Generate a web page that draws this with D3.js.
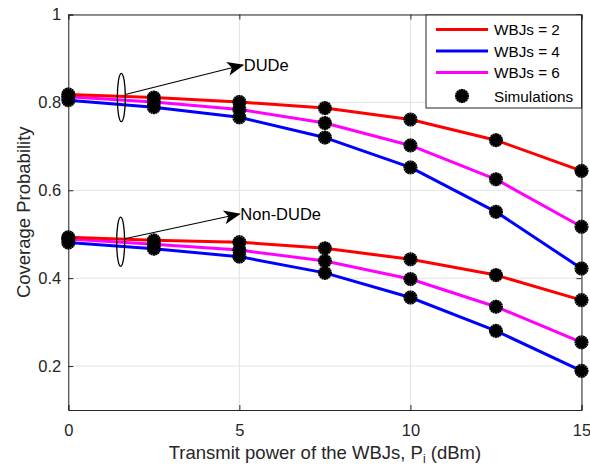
<!DOCTYPE html>
<html>
<head>
<meta charset="utf-8">
<script src="https://cdn.jsdelivr.net/npm/d3@7"></script>
<style>
  html, body { margin: 0; padding: 0; background: #fff; }
  svg { display: block; font-family: "Liberation Sans", Arial, Helvetica, sans-serif; }
</style>
</head>
<body>
<svg id="chart" width="590" height="469"></svg>
<script>
// ---- data ----
const powers = [0, 2.5, 5, 7.5, 10, 12.5, 15];
const seriesNames = ["WBJs = 2", "WBJs = 4", "WBJs = 6"];
const seriesColors = ["#ff0000", "#0000ff", "#ff00ff"];
const dudeW2 = [0.818, 0.811, 0.801, 0.787, 0.761, 0.714, 0.644];
const dudeW4 = [0.805, 0.789, 0.766, 0.720, 0.652, 0.551, 0.422];
const dudeW6 = [0.813, 0.801, 0.784, 0.753, 0.702, 0.625, 0.517];
const nonW2 = [0.493, 0.486, 0.482, 0.468, 0.443, 0.407, 0.350];
const nonW4 = [0.481, 0.467, 0.449, 0.412, 0.356, 0.280, 0.189];
const nonW6 = [0.489, 0.477, 0.464, 0.439, 0.398, 0.335, 0.254];
const xTicks = [0, 5, 10, 15];
const yTicks = [0.2, 0.4, 0.6, 0.8, 1];
const annotations = [
  { label: "DUDe", cx: 1.55, cy: 0.811, ry: 0.055, tx: 5.1, ty: 0.885 },
  { label: "Non-DUDe", cx: 1.53, cy: 0.483, ry: 0.056, tx: 5.0, ty: 0.546 }
];

// ---- layout ----
const svg = d3.select("#chart");
const L = 68.3, R = 581.5, T = 14.5, B = 410;
const x = d3.scaleLinear().domain([0, 15]).range([L, R]);
const y = d3.scaleLinear().domain([0.1, 1]).range([B, T]);

// grid
const grid = svg.append("g");
grid.selectAll("line.gx").data(xTicks).join("line")
  .attr("x1", d => x(d)).attr("x2", d => x(d)).attr("y1", T).attr("y2", B)
  .attr("stroke", "#e3e3e3").attr("stroke-width", 1);
grid.selectAll("line.gy").data(yTicks).join("line")
  .attr("y1", d => y(d)).attr("y2", d => y(d)).attr("x1", L).attr("x2", R)
  .attr("stroke", "#e3e3e3").attr("stroke-width", 1);

// axes
const xAxis = d3.axisBottom(x).tickValues(xTicks).tickSize(-5).tickPadding(14).tickFormat(d3.format("d"));
const yAxis = d3.axisLeft(y).tickValues(yTicks).tickSize(-5).tickPadding(7).tickFormat(d => d === 1 ? "1" : d3.format(".1f")(d));
const xTop = d3.axisTop(x).tickValues(xTicks).tickSize(-5).tickFormat("");
const yRight = d3.axisRight(y).tickValues(yTicks).tickSize(-5).tickFormat("");

function styleAxis(g) {
  g.select(".domain").attr("stroke", "#262626").attr("stroke-width", 1);
  g.selectAll(".tick line").attr("stroke", "#262626");
  g.selectAll(".tick text").attr("fill", "#262626").style("font-size", "16.5px")
    .style("font-family", "'Liberation Sans', Arial, sans-serif");
}
svg.append("g").attr("transform", `translate(0,${B})`).call(xAxis).call(styleAxis);
svg.append("g").attr("transform", `translate(${L},0)`).call(yAxis).call(styleAxis);
svg.append("g").attr("transform", `translate(0,${T})`).call(xTop).call(styleAxis);
svg.append("g").attr("transform", `translate(${R},0)`).call(yRight).call(styleAxis);

// axis labels
const xl = svg.append("text").attr("x", (L + R) / 2).attr("y", 459)
  .attr("text-anchor", "middle").attr("fill", "#262626").style("font-size", "18.5px");
xl.append("tspan").text("Transmit power of the WBJs, P");
xl.append("tspan").attr("dy", 4).style("font-size", "12px").text("i");
xl.append("tspan").attr("dy", -4).text(" (dBm)");

svg.append("text").attr("transform", `translate(30,${(T + B) / 2}) rotate(-90)`)
  .attr("text-anchor", "middle").attr("fill", "#262626").style("font-size", "18.5px")
  .text("Coverage Probability");

// lines
const line = d3.line().x((d, i) => x(powers[i])).y(d => y(d));
const allSeries = [
  { vals: nonW4, c: 1 }, { vals: nonW6, c: 2 }, { vals: nonW2, c: 0 },
  { vals: dudeW4, c: 1 }, { vals: dudeW6, c: 2 }, { vals: dudeW2, c: 0 }
];
svg.append("g").selectAll("path").data(allSeries).join("path")
  .attr("d", d => line(d.vals)).attr("fill", "none")
  .attr("stroke", d => seriesColors[d.c]).attr("stroke-width", 3)
  .attr("stroke-linejoin", "round");

// markers
function drawMarker(g, cx, cy) {
  g.append("circle").attr("cx", cx).attr("cy", cy).attr("r", 5.2).attr("fill", "#000");
  for (let k = 0; k < 8; k++) {
    const a = k * Math.PI / 8;
    g.append("line")
      .attr("x1", cx - 7 * Math.cos(a)).attr("y1", cy - 7 * Math.sin(a))
      .attr("x2", cx + 7 * Math.cos(a)).attr("y2", cy + 7 * Math.sin(a))
      .attr("stroke", "#000").attr("stroke-width", 2.2);
  }
}
const mg = svg.append("g");
allSeries.forEach(s => s.vals.forEach((v, i) => drawMarker(mg, x(powers[i]), y(v))));

// annotations
svg.append("defs").append("marker").attr("id", "arr")
  .attr("viewBox", "0 0 12 10").attr("refX", 11).attr("refY", 5)
  .attr("markerWidth", 18).attr("markerHeight", 14).attr("markerUnits", "userSpaceOnUse")
  .attr("orient", "auto")
  .append("path").attr("d", "M0,0 L12,5 L0,10 L3,5 Z").attr("fill", "#000");

const ag = svg.append("g");
annotations.forEach(a => {
  const cx = x(a.cx), cy = y(a.cy);
  const ryPx = y(a.cy - a.ry) - cy;
  ag.append("ellipse").attr("cx", cx).attr("cy", cy).attr("rx", 4).attr("ry", ryPx)
    .attr("fill", "none").attr("stroke", "#000").attr("stroke-width", 1.3);
  ag.append("line").attr("x1", cx + 4).attr("y1", cy - 3)
    .attr("x2", x(a.tx)).attr("y2", y(a.ty))
    .attr("stroke", "#000").attr("stroke-width", 1.1).attr("marker-end", "url(#arr)");
  ag.append("text").attr("x", x(a.tx) + 1).attr("y", y(a.ty) + 6)
    .attr("fill", "#000").style("font-size", "16.5px").text(a.label);
});

// legend
const lg = svg.append("g");
lg.append("rect").attr("x", 426).attr("y", 15).attr("width", 155.5).attr("height", 93)
  .attr("fill", "#fff").attr("stroke", "#262626").attr("stroke-width", 1);
const rowsY = [29.5, 51, 72.5, 96];
seriesNames.forEach((n, i) => {
  lg.append("line").attr("x1", 436).attr("x2", 488).attr("y1", rowsY[i]).attr("y2", rowsY[i])
    .attr("stroke", seriesColors[i]).attr("stroke-width", 3);
  lg.append("text").attr("x", 494).attr("y", rowsY[i] + 5.5).attr("fill", "#000")
    .style("font-size", "15.3px").text(n);
});
drawMarker(lg, 462, rowsY[3]);
lg.append("text").attr("x", 494).attr("y", rowsY[3] + 5.5).attr("fill", "#000")
  .style("font-size", "15.3px").text("Simulations");
</script>
</body>
</html>
